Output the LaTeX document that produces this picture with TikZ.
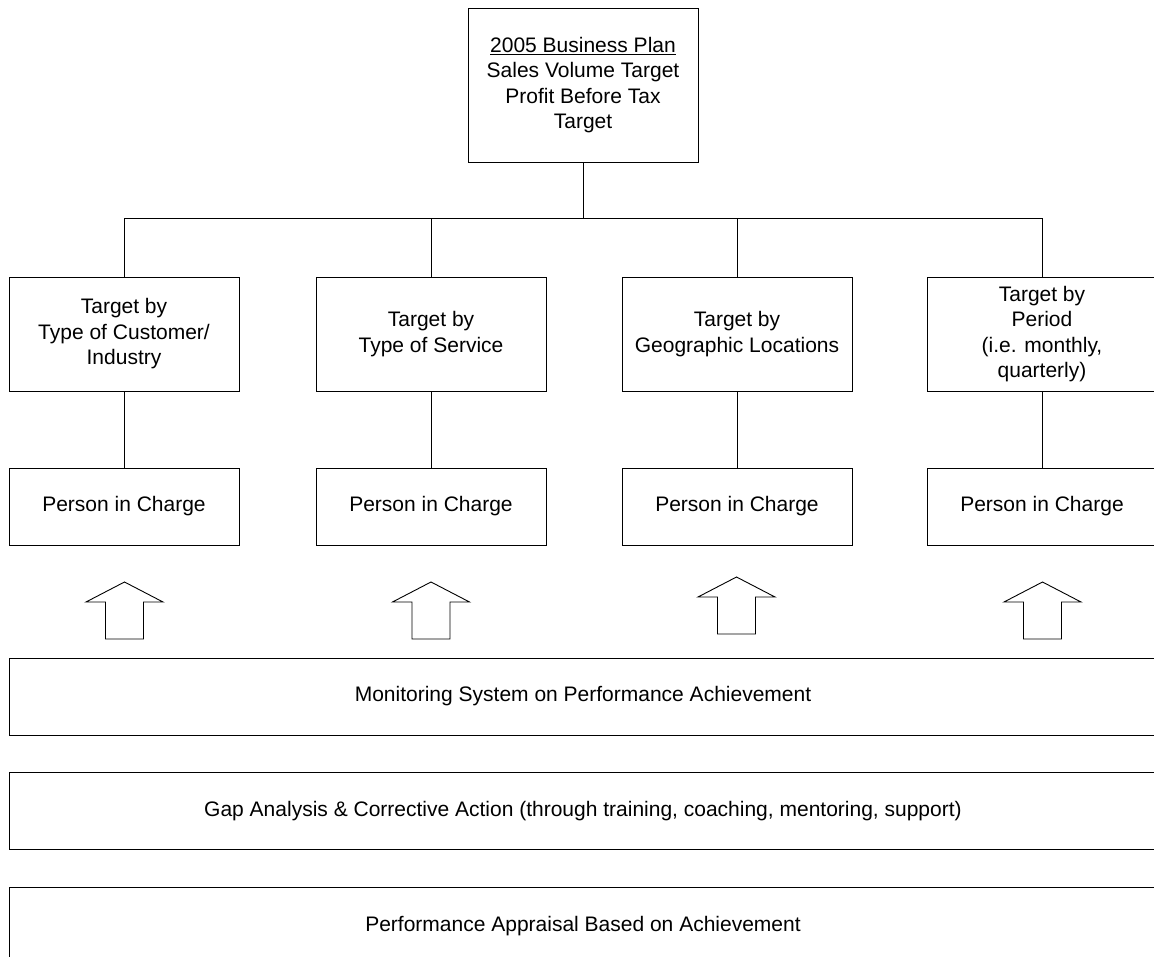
\documentclass[tikz,border=0pt]{standalone}
\usepackage{fontspec}
\setmainfont{Liberation Sans}
\begin{document}
\begin{tikzpicture}[x=1pt,y=-1pt,
  box/.style={draw, line width=0.9pt, rectangle, inner sep=0pt, align=center,
              font=\fontsize{21}{25.5}\selectfont, minimum width=230pt},
  targetbox/.style={box, minimum height=114pt},
  personbox/.style={box, minimum height=77pt},
  widebox/.style={box, minimum width=1148pt, minimum height=77pt},
  link/.style={line width=0.9pt},
  uparrow/.pic={\draw[line width=0.9pt, fill=white]
      (0,0) -- (38.5,20) -- (19,20) -- (19,57) -- (-19,57) -- (-19,20) -- (-38.5,20) -- cycle;}
]
\useasboundingbox (0,0) rectangle (1154,957);
\clip (0,0) rectangle (1154,957);

% plan at the top
\node[box, minimum height=154pt] (plan) at (583,85)
  {\underline{2005 Business Plan}\\Sales Volume Target\\Profit Before Tax\\Target};

% targets
\node[targetbox] (t1) at (124,334) {Target by\\Type of Customer/\\Industry};
\node[targetbox] (t2) at (431,334) {Target by\\Type of Service};
\node[targetbox] (t3) at (737,334) {Target by\\Geographic Locations};
\node[targetbox] (t4) at (1042,334) {Target by\\Period\\(i.e. monthly,\\quarterly)};

% persons in charge
\node[personbox] (p1) at (124,506.5) {Person in Charge};
\node[personbox] (p2) at (431,506.5) {Person in Charge};
\node[personbox] (p3) at (737,506.5) {Person in Charge};
\node[personbox] (p4) at (1042,506.5) {Person in Charge};

% tree connectors
\coordinate (bus) at (583,218);
\draw[link] (plan.south) -- (bus);
\draw[link] (t1.north) -- (t1.north |- bus) -- (t4.north |- bus) -- (t4.north);
\draw[link] (t2.north) -- (t2.north |- bus);
\draw[link] (t3.north) -- (t3.north |- bus);
\foreach \i in {1,2,3,4} \draw[link] (t\i.south) -- (p\i.north);

% block arrows
\pic at (124.5,582) {uparrow};
\pic at (431,582) {uparrow};
\pic at (736.5,577) {uparrow};
\pic at (1042.5,582) {uparrow};

% process bands
\node[widebox] (mon) at (583,696.5) {Monitoring System on Performance Achievement};
\node[widebox] (gap) at (583,811) {Gap Analysis \& Corrective Action (through training, coaching, mentoring, support)};
\node[widebox] (pa) at (583,926) {Performance Appraisal Based on Achievement};
\end{tikzpicture}
\end{document}
